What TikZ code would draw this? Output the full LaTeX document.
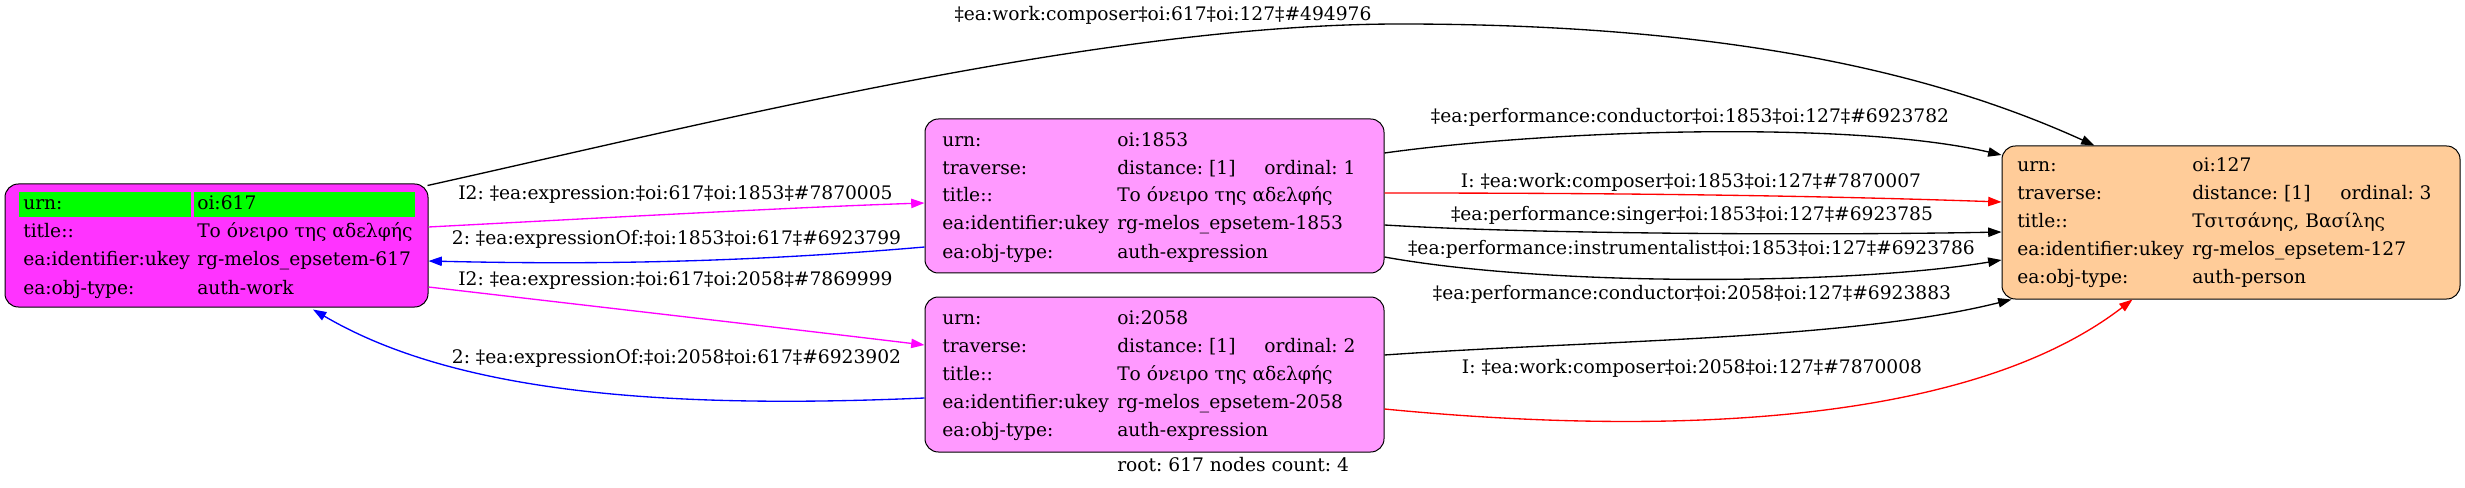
\documentclass[tikz,border=0pt]{standalone}
\usepackage{fontspec}
\setmainfont{DejaVu Serif}
\usetikzlibrary{arrows.meta,fit,calc}
\frenchspacing
\definecolor{cWork}{HTML}{FF33FF}
\definecolor{cExpr}{HTML}{FF99FF}
\definecolor{cPerson}{HTML}{FFCC99}
\definecolor{cRoot}{HTML}{00FF00}
\definecolor{cMag}{HTML}{FF00FF}
\definecolor{cBlue}{HTML}{0000FF}
\definecolor{cRed}{HTML}{FF0000}
\begin{document}
\begin{tikzpicture}[x=0.75pt,y=-0.75pt,font=\fontsize{14}{17}\selectfont\frenchspacing,
  box/.style={draw=black,line width=0.75pt,rounded corners=10pt,inner sep=0pt},
  cell/.style={fill=cRoot,inner sep=0pt},
  txt/.style={anchor=base west,inner sep=0pt},
  lbl/.style={anchor=base,inner sep=0pt},
  conn/.style={line width=1pt,-{Triangle[length=10pt,width=7pt]}}]
\useasboundingbox (0,0) rectangle (2465,488);
% boxes
\node[box,fill=cWork,fit={(5,184)(428,307)}] (n617) {};
\node[box,fill=cExpr,fit={(925,119)(1384,273)}] (n1853) {};
\node[box,fill=cExpr,fit={(925,297)(1384,452)}] (n2058) {};
\node[box,fill=cPerson,fit={(2002,146)(2460,299)}] (n127) {};
\node[cell,fit={(19,192)(191,217)}] (g1) {};
\node[cell,fit={(194,192)(415,217)}] (g2) {};
% node 617 text
\node[txt] (a1) at (23,210) {urn:};
\node[txt] (a2) at (197,210) {oi:617};
\node[txt] (a3) at (23,238) {title::};
\node[txt] (a4) at (197,238) {Το όνειρο της αδελφής};
\node[txt] (a5) at (23,266) {ea:identifier:ukey};
\node[txt] (a6) at (197,266) {rg-melos\_epsetem-617};
\node[txt] (a7) at (23,294) {ea:obj-type:};
\node[txt] (a8) at (197,294) {auth-work};
% node 1853 text
\node[txt] (b1) at (942,147) {urn:};
\node[txt] (b2) at (1117,147) {oi:1853};
\node[txt] (b3) at (942,175) {traverse:};
\node[txt] (b4) at (1117,175) {distance: [1]};
\node[txt] (b5) at (1264,175) {ordinal: 1};
\node[txt] (b6) at (942,202) {title::};
\node[txt] (b7) at (1117,202) {Το όνειρο της αδελφής};
\node[txt] (b8) at (942,230) {ea:identifier:ukey};
\node[txt] (b9) at (1117,230) {rg-melos\_epsetem-1853};
\node[txt] (b10) at (942,258) {ea:obj-type:};
\node[txt] (b11) at (1117,258) {auth-expression};
% node 2058 text
\node[txt] (c1) at (942,324) {urn:};
\node[txt] (c2) at (1117,324) {oi:2058};
\node[txt] (c3) at (942,352) {traverse:};
\node[txt] (c4) at (1117,352) {distance: [1]};
\node[txt] (c5) at (1264,352) {ordinal: 2};
\node[txt] (c6) at (942,380) {title::};
\node[txt] (c7) at (1117,380) {Το όνειρο της αδελφής};
\node[txt] (c8) at (942,408) {ea:identifier:ukey};
\node[txt] (c9) at (1117,408) {rg-melos\_epsetem-2058};
\node[txt] (c10) at (942,436) {ea:obj-type:};
\node[txt] (c11) at (1117,436) {auth-expression};
% node 127 text
\node[txt] (d1) at (2017,172) {urn:};
\node[txt] (d2) at (2192,172) {oi:127};
\node[txt] (d3) at (2017,200) {traverse:};
\node[txt] (d4) at (2192,200) {distance: [1]};
\node[txt] (d5) at (2340,200) {ordinal: 3};
\node[txt] (d6) at (2017,228) {title::};
\node[txt] (d7) at (2192,228) {Τσιτσάνης, Βασίλης};
\node[txt] (d8) at (2017,256) {ea:identifier:ukey};
\node[txt] (d9) at (2192,256) {rg-melos\_epsetem-127};
\node[txt] (d10) at (2017,283) {ea:obj-type:};
\node[txt] (d11) at (2192,283) {auth-person};
% graph label
\node[txt] (root) at (1117,471) {root: 617 nodes count: 4};
% edges
\draw[conn] ($(n617.north east)+(-1,2)$) .. controls (700,125) and (1100,24) .. (1400,24)
  .. controls (1750,24) and (1950,80) .. ($(n127.north west)+(93,0)$);
\draw[conn,cMag] ($(n617.east)+(0,-18.5)$) .. controls (600,218) and (800,207) .. ($(n1853.west)+(0,7)$);
\draw[conn,cBlue] ($(n1853.west)+(0,51)$) .. controls (750,262) and (600,265) .. ($(n617.east)+(0,15.5)$);
\draw[conn,cMag] ($(n617.east)+(0,41.5)$) .. controls (600,307) and (800,330) .. ($(n2058.west)+(0,-29.5)$);
\draw[conn,cBlue] ($(n2058.west)+(0,23.5)$) .. controls (650,410) and (450,390) .. ($(n617.south)+(96.5,2)$);
\draw[conn] ($(n1853.east)+(0,-43)$) .. controls (1550,130) and (1850,120) .. ($(n127.west)+(0,-67.5)$);
\draw[conn,cRed] ($(n1853.east)+(0,-3)$) .. controls (1600,193) and (1800,195) .. ($(n127.west)+(0,-20.5)$);
\draw[conn] ($(n1853.east)+(0,29)$) .. controls (1550,235) and (1850,235) .. ($(n127.west)+(0,9.5)$);
\draw[conn] ($(n1853.east)+(0,61)$) .. controls (1550,287) and (1850,285) .. ($(n127.west)+(0,37.5)$);
\draw[conn] ($(n2058.east)+(0,-19.5)$) .. controls (1600,340) and (1850,340) .. ($(n127.south west)+(10,0)$);
\draw[conn,cRed] ($(n2058.east)+(0,34.5)$) .. controls (1600,430) and (1950,440) .. ($(n127.south west)+(131,0)$);
% edge labels
\node[lbl] (l1) at (1163,21) {‡ea:work:composer‡oi:617‡oi:127‡\#494976};
\node[lbl] (l2) at (675.5,200) {I2: ‡ea:expression:‡oi:617‡oi:1853‡\#7870005};
\node[lbl] (l3) at (676.5,245) {2: ‡ea:expressionOf:‡oi:1853‡oi:617‡\#6923799};
\node[lbl] (l4) at (675.5,286) {I2: ‡ea:expression:‡oi:617‡oi:2058‡\#7869999};
\node[lbl] (l5) at (676.5,363) {2: ‡ea:expressionOf:‡oi:2058‡oi:617‡\#6923902};
\node[lbl] (l6) at (1690,123) {‡ea:performance:conductor‡oi:1853‡oi:127‡\#6923782};
\node[lbl] (l7) at (1691,188) {I: ‡ea:work:composer‡oi:1853‡oi:127‡\#7870007};
\node[lbl] (l8) at (1692,221) {‡ea:performance:singer‡oi:1853‡oi:127‡\#6923785};
\node[lbl] (l9) at (1691.5,255) {‡ea:performance:instrumentalist‡oi:1853‡oi:127‡\#6923786};
\node[lbl] (l10) at (1692,300) {‡ea:performance:conductor‡oi:2058‡oi:127‡\#6923883};
\node[lbl] (l11) at (1692,373) {I: ‡ea:work:composer‡oi:2058‡oi:127‡\#7870008};
\end{tikzpicture}
\end{document}
